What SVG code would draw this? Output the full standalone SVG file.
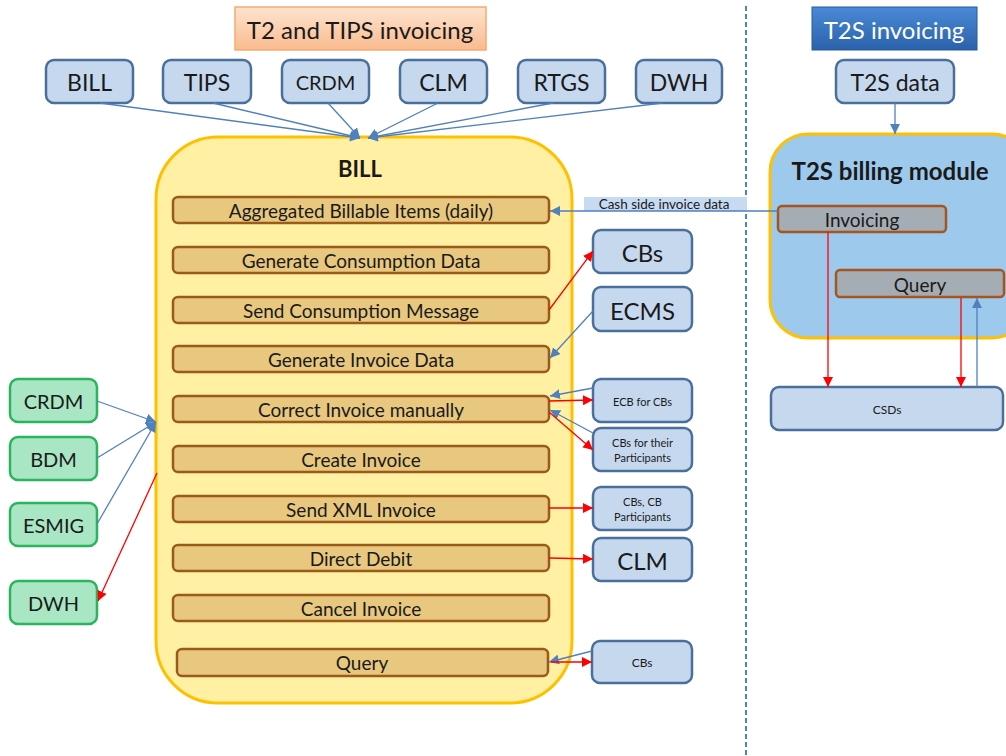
<svg xmlns="http://www.w3.org/2000/svg" width="1006" height="756" viewBox="0 0 1006 756">
<defs>
<linearGradient id="gPeach" x1="0" y1="0" x2="0" y2="1"><stop offset="0" stop-color="#fde4d0"/><stop offset="1" stop-color="#f9bb8e"/></linearGradient>
<linearGradient id="gBlue" x1="0" y1="0" x2="0" y2="1"><stop offset="0" stop-color="#4a8ad6"/><stop offset="1" stop-color="#2a62aa"/></linearGradient>
<marker id="ab" viewBox="0 0 10 10" refX="10" refY="5" markerWidth="10" markerHeight="10" markerUnits="userSpaceOnUse" orient="auto"><path d="M0,0 L10,5 L0,10 z" fill="#4f81bd"/></marker>
<marker id="ar" viewBox="0 0 10 10" refX="10" refY="5" markerWidth="10" markerHeight="10" markerUnits="userSpaceOnUse" orient="auto"><path d="M0,0 L10,5 L0,10 z" fill="#ff0000"/></marker>
<style>
text{font-family:Lato,"Liberation Sans",sans-serif;fill:#1a1a1a;text-anchor:middle;dominant-baseline:central}
.nb{fill:#c5d8ee;stroke:#4a6f9c;stroke-width:2.5}
.ng{fill:#a8e6c4;stroke:#2bb35e;stroke-width:2.5}
.bar{fill:#e8c77e;stroke:#9b5a1a;stroke-width:2.5}
.gbar{fill:#a5adb4;stroke:#a5561e;stroke-width:2.5}
.bl{stroke:#4f81bd;stroke-width:1.3;fill:none}
.rl{stroke:#ff0000;stroke-width:1.3;fill:none}
.t24{font-size:23px}.t20{font-size:20px}.t17{font-size:19px}.t11{font-size:11px}
</style>
</defs>
<rect width="1006" height="756" fill="#ffffff"/>
<line x1="746" y1="6" x2="746" y2="756" stroke="#4f81bd" stroke-width="2" stroke-dasharray="5,3"/>

<g id="title-t2">
<rect x="235" y="7" width="251" height="43" fill="url(#gPeach)" stroke="#f5aa70" stroke-width="1.5"/>
<text x="360" y="29" font-size="24">T2 and TIPS invoicing</text>
</g>
<g id="title-t2s">
<rect x="812" y="7" width="165" height="43" fill="url(#gBlue)" stroke="#2a5a9a" stroke-width="1"/>
<text x="894" y="29" font-size="24" style="fill:#ffffff">T2S invoicing</text>
</g>

<g id="bill-container">
<rect x="156" y="137" width="416" height="566" rx="62" fill="#fff0a3" stroke="#ffc000" stroke-width="3"/>
<text x="360" y="168" font-size="22" font-weight="bold">BILL</text>
</g>

<g id="bar-aggregated"><rect class="bar" x="173" y="197" width="376" height="26" rx="5"/><text class="t17" x="361" y="210">Aggregated Billable  Items (daily)</text></g>
<g id="bar-gen-consumption"><rect class="bar" x="173" y="247" width="376" height="26" rx="5"/><text class="t17" x="361" y="260">Generate Consumption Data</text></g>
<g id="bar-send-consumption"><rect class="bar" x="173" y="297" width="376" height="26" rx="5"/><text class="t17" x="361" y="310">Send Consumption Message</text></g>
<g id="bar-gen-invoice"><rect class="bar" x="173" y="346" width="376" height="26" rx="5"/><text class="t17" x="361" y="359">Generate Invoice Data</text></g>
<g id="bar-correct"><rect class="bar" x="173" y="396" width="376" height="26" rx="5"/><text class="t17" x="361" y="409">Correct Invoice manually</text></g>
<g id="bar-create"><rect class="bar" x="173" y="446" width="376" height="26" rx="5"/><text class="t17" x="361" y="459">Create Invoice</text></g>
<g id="bar-sendxml"><rect class="bar" x="173" y="496" width="376" height="26" rx="5"/><text class="t17" x="361" y="509">Send XML Invoice</text></g>
<g id="bar-dd"><rect class="bar" x="173" y="545" width="376" height="26" rx="5"/><text class="t17" x="361" y="558">Direct Debit</text></g>
<g id="bar-cancel"><rect class="bar" x="173" y="595" width="376" height="26" rx="5"/><text class="t17" x="361" y="608">Cancel Invoice</text></g>
<g id="bar-query"><rect class="bar" x="177" y="649" width="371" height="27" rx="5"/><text class="t17" x="362" y="662">Query</text></g>

<g id="top-bill"><rect class="nb" x="46" y="60" width="87" height="43" rx="8"/><text class="t24" x="89.5" y="82">BILL</text></g>
<g id="top-tips"><rect class="nb" x="163" y="60" width="88" height="43" rx="8"/><text class="t24" x="207" y="82">TIPS</text></g>
<g id="top-crdm"><rect class="nb" x="282" y="60" width="87" height="43" rx="8"/><text class="t20" x="325.5" y="82">CRDM</text></g>
<g id="top-clm"><rect class="nb" x="400" y="60" width="87" height="43" rx="8"/><text class="t24" x="443.5" y="82">CLM</text></g>
<g id="top-rtgs"><rect class="nb" x="518" y="60" width="87" height="43" rx="8"/><text class="t24" x="561.5" y="82">RTGS</text></g>
<g id="top-dwh"><rect class="nb" x="636" y="60" width="86" height="43" rx="8"/><text class="t24" x="679" y="82">DWH</text></g>
<g id="t2s-data"><rect class="nb" x="836" y="60" width="118" height="43" rx="8"/><text class="t24" x="895" y="82">T2S data</text></g>

<g id="cash-side-label"><rect x="584" y="197" width="163" height="14" fill="#c6dbf2"/><text x="664" y="204" font-size="13.5">Cash side invoice data</text></g>

<g id="t2s-module">
<rect x="770" y="134" width="260" height="204" rx="38" fill="#9dc9ec" stroke="#ffc000" stroke-width="3"/>
<text x="890" y="170" font-size="24" font-weight="bold">T2S billing module</text>
</g>
<g id="t2s-invoicing"><rect class="gbar" x="778" y="206" width="168" height="26" rx="4"/><text class="t17" x="862" y="219">Invoicing</text></g>
<g id="t2s-query"><rect class="gbar" x="836" y="270" width="168" height="27" rx="4"/><text class="t17" x="920" y="284">Query</text></g>
<g id="csds"><rect class="nb" x="771" y="387" width="232" height="43" rx="8"/><text x="887" y="409" font-size="12">CSDs</text></g>

<g id="r-cbs1"><rect class="nb" x="593" y="230" width="99" height="43" rx="8"/><text font-size="24" x="642.5" y="252">CBs</text></g>
<g id="r-ecms"><rect class="nb" x="593" y="287" width="99" height="44" rx="8"/><text font-size="24" x="642.5" y="310">ECMS</text></g>
<g id="r-ecb"><rect class="nb" x="593" y="379" width="99" height="43" rx="8"/><text class="t11" x="642.5" y="401">ECB for CBs</text></g>
<g id="r-cbspart"><rect class="nb" x="593" y="428" width="99" height="43" rx="8"/><text class="t11" x="642.5" y="442">CBs for their</text><text class="t11" x="642.5" y="457">Participants</text></g>
<g id="r-cbscb"><rect class="nb" x="593" y="487" width="99" height="43" rx="8"/><text class="t11" x="642.5" y="501">CBs, CB</text><text class="t11" x="642.5" y="516">Participants</text></g>
<g id="r-clm"><rect class="nb" x="593" y="538" width="99" height="43" rx="8"/><text font-size="24" x="642.5" y="560">CLM</text></g>
<g id="r-cbs2"><rect class="nb" x="592" y="641" width="100" height="42" rx="8"/><text x="642" y="662" font-size="12">CBs</text></g>

<g id="l-crdm"><rect class="ng" x="10" y="379" width="87" height="43" rx="8"/><text class="t20" x="53.5" y="401">CRDM</text></g>
<g id="l-bdm"><rect class="ng" x="10" y="437" width="87" height="43" rx="8"/><text class="t20" x="53.5" y="459">BDM</text></g>
<g id="l-esmig"><rect class="ng" x="10" y="503" width="87" height="43" rx="8"/><text class="t20" x="53.5" y="525">ESMIG</text></g>
<g id="l-dwh"><rect class="ng" x="10" y="581" width="87" height="43" rx="8"/><text class="t20" x="53.5" y="603">DWH</text></g>

<g id="connectors">
<line class="bl" x1="100" y1="103" x2="360" y2="138" marker-end="url(#ab)"/>
<line class="bl" x1="213" y1="103" x2="360" y2="138" marker-end="url(#ab)"/>
<line class="bl" x1="328" y1="103" x2="360" y2="138" marker-end="url(#ab)"/>
<line class="bl" x1="438" y1="103" x2="368" y2="138" marker-end="url(#ab)"/>
<line class="bl" x1="553" y1="103" x2="368" y2="138" marker-end="url(#ab)"/>
<line class="bl" x1="663" y1="103" x2="368" y2="138" marker-end="url(#ab)"/>
<line class="bl" x1="895" y1="103" x2="895" y2="134" marker-end="url(#ab)"/>
<line class="bl" x1="778" y1="211" x2="550" y2="211" marker-end="url(#ab)"/>
<line class="rl" x1="828" y1="232" x2="828" y2="387" marker-end="url(#ar)"/>
<line class="rl" x1="961" y1="298" x2="961" y2="387" marker-end="url(#ar)"/>
<line class="bl" x1="977" y1="387" x2="977" y2="298" marker-end="url(#ab)"/>
<line class="rl" x1="549" y1="310" x2="593" y2="251" marker-end="url(#ar)"/>
<line class="bl" x1="593" y1="311" x2="550" y2="358" marker-end="url(#ab)"/>
<line class="bl" x1="593" y1="388" x2="550" y2="396" marker-end="url(#ab)"/>
<line class="rl" x1="549" y1="401" x2="593" y2="400" marker-end="url(#ar)"/>
<line class="bl" x1="593" y1="433" x2="550" y2="410" marker-end="url(#ab)"/>
<line class="rl" x1="549" y1="412" x2="593" y2="450" marker-end="url(#ar)"/>
<line class="rl" x1="549" y1="508" x2="593" y2="508" marker-end="url(#ar)"/>
<line class="rl" x1="549" y1="558" x2="593" y2="559" marker-end="url(#ar)"/>
<line class="bl" x1="592" y1="651" x2="549" y2="662" marker-end="url(#ab)"/>
<line class="rl" x1="551" y1="662" x2="592" y2="662" marker-end="url(#ar)"/>
<line class="bl" x1="97" y1="401" x2="156" y2="422" marker-end="url(#ab)"/>
<line class="bl" x1="97" y1="458" x2="156" y2="422" marker-end="url(#ab)"/>
<line class="bl" x1="97" y1="524" x2="156" y2="422" marker-end="url(#ab)"/>
<line class="rl" x1="157" y1="473" x2="98" y2="601" marker-end="url(#ar)"/>
</g>
</svg>
